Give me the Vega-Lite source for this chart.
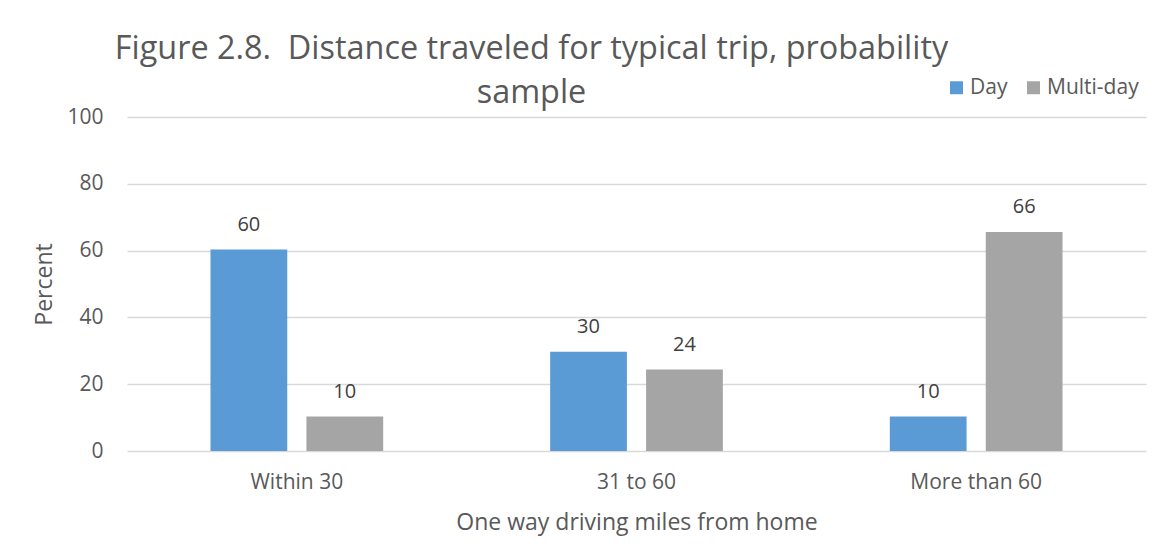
{
  "$schema": "https://vega.github.io/schema/vega-lite/v6.json",
  "width": 1019,
  "height": 334,
  "autosize": {"type": "none"},
  "padding": {"left": 127, "top": 117, "right": 17, "bottom": 97},
  "background": "white",
  "title": {
    "text": ["Figure 2.8.\u00a0 Distance traveled for typical trip, probability", "sample"],
    "font": "Open Sans",
    "fontSize": 32.4,
    "fontWeight": "normal",
    "color": "#595959",
    "anchor": "middle",
    "dx": -105,
    "dy": 75,
    "lineHeight": 44,
    "baseline": "bottom",
    "offset": 10
  },
  "data": {
    "values": [
      {"distance": "Within 30", "trip": "Day", "percent": 60.3},
      {"distance": "Within 30", "trip": "Multi-day", "percent": 10.3},
      {"distance": "31 to 60", "trip": "Day", "percent": 29.7},
      {"distance": "31 to 60", "trip": "Multi-day", "percent": 24.4},
      {"distance": "More than 60", "trip": "Day", "percent": 10.3},
      {"distance": "More than 60", "trip": "Multi-day", "percent": 65.6}
    ]
  },
  "encoding": {
    "x": {
      "field": "distance",
      "type": "nominal",
      "sort": ["Within 30", "31 to 60", "More than 60"],
      "scale": {"paddingInner": 0, "paddingOuter": 0},
      "axis": {
        "title": "One way driving miles from home",
        "labelAngle": 0,
        "domain": false,
        "ticks": false,
        "labelPadding": 20,
        "titlePadding": 19
      }
    },
    "xOffset": {
      "field": "trip",
      "type": "nominal",
      "scale": {"paddingInner": 0.2, "paddingOuter": 0.87}
    },
    "y": {
      "field": "percent",
      "type": "quantitative",
      "scale": {"domain": [0, 100], "nice": false},
      "axis": {
        "title": "Percent",
        "values": [0, 20, 40, 60, 80, 100],
        "domain": false,
        "ticks": false,
        "labelPadding": 24,
        "titlePadding": 10
      }
    }
  },
  "layer": [
    {
      "mark": {"type": "bar"},
      "encoding": {
        "color": {
          "field": "trip",
          "type": "nominal",
          "scale": {"domain": ["Day", "Multi-day"], "range": ["#5B9BD5", "#A5A5A5"]},
          "legend": {
            "title": null,
            "orient": "none",
            "direction": "horizontal",
            "legendX": 819,
            "legendY": -40,
            "symbolType": "square",
            "symbolSize": 169,
            "symbolStrokeWidth": 0,
            "labelOffset": 3,
            "columnPadding": 15
          }
        }
      }
    },
    {
      "mark": {
        "type": "text",
        "baseline": "alphabetic",
        "dy": -19,
        "font": "Open Sans",
        "fontSize": 20,
        "color": "#404040"
      },
      "encoding": {
        "text": {"field": "percent", "type": "quantitative", "format": ".0f"}
      }
    }
  ],
  "config": {
    "view": {"stroke": null},
    "font": "Open Sans",
    "axis": {
      "labelFont": "Open Sans",
      "labelFontSize": 21,
      "labelColor": "#595959",
      "titleFont": "Open Sans",
      "titleFontSize": 23,
      "titleFontWeight": "normal",
      "titleColor": "#595959",
      "gridColor": "#D9D9D9",
      "gridWidth": 1.5
    },
    "legend": {
      "labelFont": "Open Sans",
      "labelFontSize": 21,
      "labelColor": "#595959"
    }
  }
}
